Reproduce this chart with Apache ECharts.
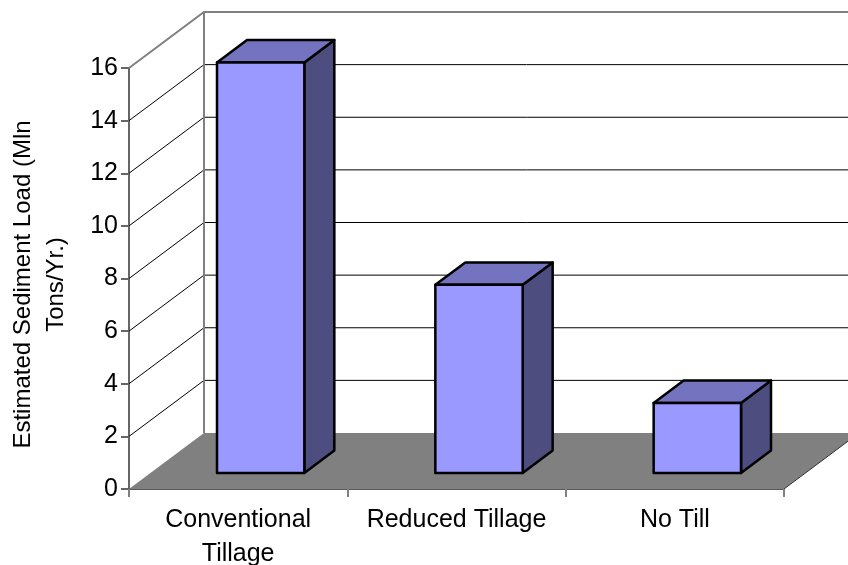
<!DOCTYPE html>
<html>
<head>
<meta charset="utf-8">
<style>html,body{margin:0;padding:0;background:#fff}#c{width:848px;height:565px}</style>
<script src="https://cdn.jsdelivr.net/npm/echarts@6/dist/echarts.min.js"></script>
</head>
<body>
<div id="c"></div>
<script>
const categories = ['Conventional\nTillage', 'Reduced Tillage', 'No Till'];
const sedimentLoad = [15.6, 7.15, 2.66];
const tickValues = [0, 2, 4, 6, 8, 10, 12, 14, 16];
const yAxisTitle = 'Estimated Sediment Load (Mln\nTons/Yr.)';

const DX = 75, DY = -56;          // full depth of the chart box
const BAR_NEAR_X = 0.3, BAR_NEAR_Y = 0.286, BAR_FAR = 0.7; // bar position along depth
const BAR_WIDTH = 0.4;            // share of the category band
const FONT = 'Liberation Sans';

const chart = echarts.init(document.getElementById('c'));
chart.setOption({
  animation: false,
  backgroundColor: '#fff',
  grid: { left: 129, right: 64, top: 68, bottom: 76, outerBoundsMode: 'none' },
  xAxis: {
    type: 'category',
    data: categories,
    boundaryGap: true,
    axisLine: { show: true, lineStyle: { color: '#222', width: 1.5 } },
    axisTick: { show: true, alignWithLabel: false, length: 8, lineStyle: { color: '#808080', width: 2 } },
    axisLabel: { color: '#000', fontFamily: FONT, fontSize: 25, lineHeight: 34, margin: 14, interval: 0 }
  },
  yAxis: {
    type: 'value',
    min: 0, max: 16, interval: 2,
    name: yAxisTitle,
    nameLocation: 'middle',
    nameGap: 56,
    nameRotate: 90,
    nameTextStyle: { color: '#000', fontFamily: FONT, fontSize: 24, lineHeight: 33, padding: [0, 12, 0, 0] },
    axisLine: { show: true, lineStyle: { color: '#666', width: 2 } },
    axisTick: { show: true, length: 8, lineStyle: { color: '#666', width: 2 } },
    axisLabel: { color: '#000', fontFamily: FONT, fontSize: 25, margin: 11 },
    splitLine: { show: false }
  },
  series: [
    {
      type: 'custom', z: 1, silent: true,
      data: [[0, 0]],
      encode: { x: 0, y: 1 },
      renderItem(params, api) {
        const g = params.coordSys;
        const y0 = api.coord([0, 0])[1];
        const x0 = g.x, x1 = g.x + g.width;
        return {
          type: 'polygon',
          shape: { points: [[x0, y0], [x0 + DX, y0 + DY], [x1 + DX, y0 + DY], [x1, y0]] },
          style: { fill: '#808080', stroke: null }
        };
      }
    },
    {
      type: 'custom', z: 2, silent: true,
      data: tickValues.filter(v => v > 0).map(v => [0, v]),
      encode: { x: 0, y: 1 },
      renderItem(params, api) {
        const g = params.coordSys;
        const v = api.value(1);
        const y = api.coord([0, v])[1];
        const x0 = g.x, x1 = g.x + g.width;
        const top = v === 16;
        return {
          type: 'polyline',
          shape: { points: [[x0, y], [x0 + DX, y + DY], [x1 + DX, y + DY]] },
          style: { fill: null, stroke: top ? '#808080' : '#000', lineWidth: top ? 2 : 1 }
        };
      }
    },
    {
      type: 'custom', z: 3, silent: true,
      data: [[0, 16]],
      encode: { x: 0, y: 1 },
      renderItem(params, api) {
        const g = params.coordSys;
        const yTop = api.coord([0, 16])[1], yBot = api.coord([0, 0])[1];
        const x0 = g.x, x1 = g.x + g.width;
        return {
          type: 'group',
          children: [
            { type: 'line', shape: { x1: x0 + DX, y1: yTop + DY, x2: x0 + DX, y2: yBot + DY },
              style: { stroke: '#808080', lineWidth: 2 } },
            { type: 'line', shape: { x1: x1, y1: yBot, x2: x1 + DX, y2: yBot + DY },
              style: { stroke: '#333', lineWidth: 1 } }
          ]
        };
      }
    },
    {
      type: 'custom', z: 4, silent: true,
      data: sedimentLoad.map((v, i) => [i, v]),
      encode: { x: 0, y: 1 },
      renderItem(params, api) {
        const i = api.value(0), v = api.value(1);
        const band = api.size([1, 0])[0];
        const w = band * BAR_WIDTH;
        const c = api.coord([i, v]), b = api.coord([i, 0]);
        const nx = DX * BAR_NEAR_X, ny = DY * BAR_NEAR_Y;
        const fx = DX * (BAR_FAR - BAR_NEAR_X), fy = DY * (BAR_FAR - BAR_NEAR_X);
        const l = c[0] - w / 2 + nx, r = c[0] + w / 2 + nx;
        const t = c[1] + ny, bt = b[1] + ny;
        const st = (fill) => ({ fill, stroke: '#000', lineWidth: 2.5, lineJoin: 'round' });
        return {
          type: 'group',
          children: [
            { type: 'polygon', shape: { points: [[r, t], [r + fx, t + fy], [r + fx, bt + fy], [r, bt]] }, style: st('#4D4D80') },
            { type: 'polygon', shape: { points: [[l, t], [l + fx, t + fy], [r + fx, t + fy], [r, t]] }, style: st('#7373BF') },
            { type: 'polygon', shape: { points: [[l, t], [r, t], [r, bt], [l, bt]] }, style: st('#9999FF') }
          ]
        };
      }
    }
  ]
});
</script>
</body>
</html>
